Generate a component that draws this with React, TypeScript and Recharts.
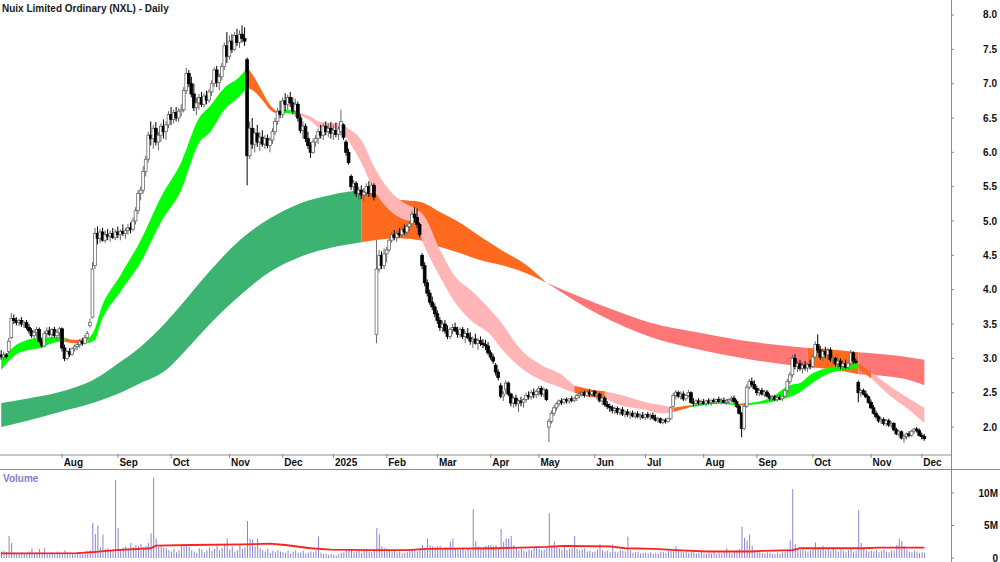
import { ComposedChart, Bar, Area, Line, XAxis, YAxis } from 'recharts';

// [open, high, low, close, volume (millions)] per trading day
type Candle = [number, number, number, number, number];
type Tone = 'up' | 'turn' | 'down';
type Seg = [Tone, [number, number, number][]];

const jul24: Candle[] = [
  [3.05,3.12,2.98,3.02,1.0],[3.02,3.10,2.97,3.05,1.1],[3.05,3.08,3.00,3.03,0.9],[3.10,3.30,3.08,3.25,3.4],
  [3.30,3.66,3.28,3.58,2.3],[3.58,3.64,3.50,3.55,0.8],[3.55,3.60,3.48,3.52,0.7],[3.52,3.58,3.47,3.55,0.6],
  [3.55,3.60,3.46,3.50,0.9],[3.50,3.55,3.44,3.52,0.7],[3.52,3.56,3.42,3.45,0.8],[3.45,3.50,3.36,3.40,1.0],
  [3.40,3.44,3.30,3.33,1.5],[3.33,3.42,3.28,3.38,0.7],[3.38,3.46,3.30,3.42,0.9],[3.42,3.45,3.22,3.25,1.4],
  [3.25,3.30,3.15,3.18,0.8],[3.18,3.40,3.16,3.36,1.5],[3.36,3.45,3.30,3.40,0.6],[3.40,3.46,3.32,3.35,0.8],
  [3.35,3.44,3.28,3.42,0.9],[3.42,3.46,3.30,3.33,0.7],[3.33,3.42,3.27,3.38,1.0],[3.38,3.46,3.30,3.43,0.8],
];
const aug24: Candle[] = [
  [3.43,3.45,3.10,3.15,0.7],[3.15,3.20,2.96,3.00,1.2],[3.00,3.12,2.97,3.10,0.9],[3.10,3.15,3.02,3.06,0.8],
  [3.06,3.16,3.04,3.14,0.6],[3.14,3.20,3.10,3.17,0.7],[3.17,3.24,3.12,3.20,0.9],[3.20,3.28,3.15,3.25,0.8],
  [3.25,3.30,3.18,3.22,0.7],[3.22,3.34,3.20,3.30,1.0],[3.30,3.40,3.27,3.36,1.1],[3.48,3.58,3.45,3.52,1.2],
  [3.60,4.40,3.58,4.30,5.4],[4.35,4.90,4.30,4.82,3.7],[4.82,4.92,4.66,4.75,5.0],[4.75,4.88,4.68,4.84,1.6],
  [4.84,4.90,4.70,4.72,3.6],[4.72,4.86,4.68,4.80,1.4],[4.80,4.88,4.72,4.78,1.5],[4.78,4.86,4.70,4.82,1.2],
  [4.82,4.90,4.74,4.76,1.3],[4.76,4.88,4.72,4.84,12.0],
];
const sep24: Candle[] = [
  [4.84,4.92,4.75,4.80,4.6],[4.80,4.88,4.72,4.85,1.4],[4.85,4.95,4.78,4.82,1.6],[4.82,4.90,4.74,4.86,1.8],
  [4.86,4.96,4.80,4.90,1.5],[4.90,4.98,4.82,4.88,2.3],[4.88,5.05,4.85,5.00,1.7],[5.00,5.20,4.95,5.15,2.0],
  [5.15,5.45,5.10,5.40,1.8],[5.40,5.50,5.30,5.45,2.2],[5.45,5.80,5.40,5.72,1.6],[5.72,5.95,5.65,5.90,1.9],
  [5.90,6.30,5.85,6.25,2.3],[6.25,6.45,6.10,6.20,3.8],[6.20,6.40,6.05,6.35,12.4],[6.35,6.44,6.10,6.15,3.0],
  [6.15,6.30,6.03,6.25,1.7],[6.25,6.42,6.15,6.38,1.9],[6.38,6.48,6.20,6.30,1.6],[6.30,6.45,6.18,6.40,1.5],
  [6.40,6.60,6.35,6.55,1.2],
];
const oct24: Candle[] = [
  [6.55,6.66,6.40,6.48,1.0],[6.48,6.62,6.42,6.58,1.4],[6.58,6.66,6.45,6.50,0.9],[6.50,6.64,6.44,6.60,1.2],
  [6.60,6.70,6.52,6.62,1.9],[6.62,6.95,6.58,6.90,1.8],[6.90,7.23,6.85,7.15,2.0],[7.15,7.20,6.95,7.00,1.7],
  [7.00,7.10,6.80,6.85,1.2],[6.85,7.00,6.60,6.65,1.0],[6.65,6.80,6.54,6.72,0.8],[6.72,6.85,6.62,6.80,1.5],
  [6.80,6.88,6.66,6.70,1.3],[6.70,6.86,6.65,6.82,0.9],[6.82,6.90,6.70,6.76,1.2],[6.76,6.92,6.72,6.88,1.6],
  [6.88,7.05,6.82,7.00,1.1],[7.00,7.24,6.95,7.20,1.4],[7.20,7.26,6.95,7.02,1.9],[7.02,7.15,6.90,7.10,1.2],
  [7.10,7.30,7.05,7.25,1.5],[7.25,7.60,7.20,7.55,2.0],[7.55,7.75,7.30,7.40,3.0],
];
const nov24: Candle[] = [
  [7.40,7.70,7.35,7.62,1.3],[7.62,7.72,7.45,7.50,1.8],[7.50,7.75,7.48,7.70,1.0],[7.70,7.80,7.55,7.60,1.2],
  [7.60,7.78,7.52,7.72,2.0],[7.72,7.85,7.60,7.66,1.4],[7.66,7.82,7.55,7.62,1.6],[7.35,7.38,5.52,5.95,5.7],
  [5.95,6.45,5.90,6.35,3.0],[6.35,6.50,6.05,6.12,2.9],[6.12,6.35,6.00,6.28,1.8],[6.28,6.40,6.08,6.15,3.0],
  [6.15,6.30,6.02,6.22,1.5],[6.22,6.32,6.08,6.12,1.2],[6.12,6.25,6.05,6.20,1.0],[6.20,6.26,6.06,6.10,1.4],
  [6.10,6.22,6.00,6.18,0.8],[6.18,6.35,6.12,6.30,1.1],[6.30,6.50,6.25,6.45,0.9],[6.45,6.65,6.40,6.60,1.2],
  [6.60,6.75,6.50,6.55,1.0],
];
const dec24: Candle[] = [
  [6.55,6.80,6.50,6.75,0.9],[6.75,6.86,6.60,6.70,0.8],[6.70,6.84,6.62,6.80,1.1],[6.80,6.88,6.66,6.72,0.7],
  [6.72,6.80,6.55,6.60,1.0],[6.60,6.78,6.52,6.70,1.2],[6.70,6.74,6.45,6.50,0.8],[6.50,6.55,6.28,6.32,0.9],
  [6.32,6.45,6.20,6.38,1.1],[6.38,6.42,6.15,6.20,0.7],[6.20,6.30,6.05,6.10,0.8],[6.10,6.15,5.92,6.00,1.0],
  [6.00,6.20,5.98,6.15,0.9],[6.15,6.25,6.08,6.20,1.2],[6.20,6.35,6.12,6.30,3.3],[6.30,6.40,6.20,6.25,0.8],
  [6.25,6.42,6.18,6.38,0.6],[6.38,6.45,6.25,6.30,0.7],[6.30,6.42,6.22,6.35,0.5],[6.35,6.44,6.20,6.28,0.6],
];
const jan25: Candle[] = [
  [6.28,6.40,6.18,6.32,0.5],[6.32,6.43,6.22,6.26,0.4],[6.26,6.38,6.18,6.34,0.6],[6.30,6.62,6.25,6.45,0.8],
  [6.40,6.42,6.18,6.22,0.9],[6.15,6.18,5.95,6.00,1.1],[6.00,6.05,5.82,5.85,1.2],[5.65,5.68,5.45,5.50,1.3],
  [5.50,5.60,5.38,5.55,0.9],[5.55,5.58,5.35,5.40,1.0],[5.40,5.50,5.30,5.45,1.2],[5.45,5.52,5.32,5.38,0.8],
  [5.38,5.48,5.28,5.42,1.1],[5.42,5.55,5.36,5.50,1.4],[5.50,5.58,5.35,5.40,1.0],[5.40,5.56,5.36,5.52,0.9],
  [5.52,5.55,5.30,5.35,1.2],[3.35,4.72,3.22,4.30,4.6],[4.30,4.58,4.25,4.50,3.6],[4.50,4.56,4.30,4.35,1.8],
  [4.35,4.60,4.30,4.52,1.5],
];
const feb25: Candle[] = [
  [4.52,4.62,4.40,4.58,1.4],[4.58,4.75,4.55,4.72,1.2],[4.72,4.85,4.68,4.80,1.0],[4.80,4.87,4.72,4.76,1.1],
  [4.76,4.86,4.70,4.82,0.9],[4.82,4.90,4.76,4.80,1.0],[4.80,4.92,4.77,4.88,0.7],[4.88,4.95,4.80,4.84,0.8],
  [4.84,4.95,4.80,4.92,0.9],[4.92,5.00,4.85,4.96,1.1],[4.96,5.15,4.92,5.10,1.3],[5.10,5.20,4.98,5.05,1.2],
  [5.05,5.18,4.90,4.95,1.0],[4.95,4.98,4.76,4.80,1.5],[4.50,4.53,4.30,4.35,2.0],[4.35,4.40,4.05,4.10,1.6],
  [4.10,4.15,3.90,3.95,3.0],[3.95,4.00,3.78,3.82,2.0],[3.82,3.90,3.70,3.75,1.8],[3.75,3.80,3.60,3.65,1.7],
];
const mar25: Candle[] = [
  [3.65,3.70,3.50,3.55,1.8],[3.55,3.60,3.40,3.45,1.9],[3.45,3.55,3.38,3.50,1.4],[3.50,3.56,3.36,3.40,1.7],
  [3.40,3.48,3.28,3.32,1.6],[3.32,3.45,3.28,3.42,2.5],[3.42,3.50,3.35,3.45,3.0],[3.45,3.52,3.38,3.40,1.5],
  [3.40,3.46,3.30,3.35,1.3],[3.35,3.45,3.30,3.42,1.2],[3.42,3.46,3.28,3.32,1.6],[3.32,3.40,3.22,3.36,1.1],
  [3.36,3.44,3.28,3.30,1.4],[3.30,3.38,3.20,3.25,1.2],[3.25,3.32,3.15,3.28,7.5],[3.28,3.36,3.20,3.22,2.6],
  [3.22,3.30,3.12,3.26,1.8],[3.26,3.32,3.18,3.22,1.5],[3.22,3.28,3.15,3.20,1.6],[3.20,3.27,3.12,3.18,1.9],
  [3.18,3.24,3.05,3.08,2.0],
];
const apr25: Candle[] = [
  [3.08,3.12,2.98,3.02,2.0],[3.02,3.06,2.92,2.96,1.8],[2.90,2.93,2.75,2.80,2.0],[2.80,2.84,2.68,2.72,1.6],
  [2.60,2.64,2.42,2.45,4.5],[2.45,2.52,2.38,2.48,2.5],[2.55,2.68,2.48,2.64,3.0],[2.64,2.66,2.45,2.48,3.0],
  [2.48,2.50,2.30,2.35,3.4],[2.35,2.45,2.28,2.42,2.0],[2.42,2.47,2.30,2.34,1.5],[2.34,2.40,2.22,2.38,1.2],
  [2.38,2.44,2.30,2.36,1.4],[2.36,2.42,2.28,2.40,1.1],[2.40,2.50,2.36,2.46,1.0],[2.46,2.52,2.40,2.44,1.3],
  [2.44,2.54,2.40,2.50,1.2],[2.50,2.56,2.42,2.47,1.5],[2.47,2.55,2.42,2.52,1.6],
];
const may25: Candle[] = [
  [2.52,2.60,2.45,2.56,1.4],[2.56,2.60,2.44,2.48,1.2],[2.48,2.58,2.44,2.54,1.3],[2.54,2.56,2.38,2.40,1.6],
  [2.00,2.12,1.78,2.08,6.9],[2.08,2.24,2.05,2.20,2.0],[2.20,2.32,2.16,2.28,2.5],[2.28,2.36,2.24,2.34,1.7],
  [2.34,2.40,2.30,2.38,1.5],[2.38,2.42,2.32,2.36,1.3],[2.36,2.42,2.33,2.40,1.6],[2.40,2.43,2.34,2.38,1.2],
  [2.38,2.42,2.34,2.41,1.4],[2.41,2.45,2.36,2.39,1.5],[2.39,2.44,2.36,2.42,3.4],[2.42,2.48,2.38,2.46,1.4],
  [2.46,2.52,2.42,2.48,1.2],[2.48,2.54,2.44,2.50,1.3],[2.50,2.53,2.43,2.46,1.5],[2.46,2.54,2.44,2.51,1.0],
  [2.51,2.55,2.44,2.48,1.1],[2.48,2.54,2.45,2.52,0.9],
];
const jun25: Candle[] = [
  [2.52,2.54,2.44,2.46,1.0],[2.46,2.50,2.40,2.48,1.3],[2.48,2.50,2.36,2.38,2.1],[2.38,2.44,2.32,2.42,1.2],
  [2.42,2.45,2.30,2.33,1.0],[2.33,2.38,2.26,2.30,1.1],[2.30,2.34,2.22,2.28,0.9],[2.28,2.32,2.20,2.24,2.1],
  [2.24,2.30,2.19,2.27,1.0],[2.27,2.30,2.18,2.21,0.9],[2.21,2.28,2.17,2.25,1.2],[2.25,2.29,2.16,2.19,1.1],
  [2.19,2.24,2.14,2.22,1.0],[2.22,2.26,2.15,2.18,3.3],[2.18,2.23,2.12,2.20,1.2],[2.20,2.24,2.14,2.16,0.8],
  [2.16,2.22,2.12,2.19,0.9],[2.19,2.23,2.13,2.15,1.0],[2.15,2.20,2.10,2.17,0.7],[2.17,2.22,2.12,2.14,0.8],
];
const jul25: Candle[] = [
  [2.14,2.20,2.10,2.18,0.8],[2.18,2.22,2.12,2.15,0.7],[2.15,2.20,2.10,2.17,0.9],[2.17,2.21,2.11,2.13,0.6],
  [2.13,2.18,2.08,2.10,0.8],[2.10,2.15,2.06,2.12,0.7],[2.12,2.14,2.05,2.07,1.0],[2.07,2.12,2.04,2.10,0.9],
  [2.10,2.13,2.05,2.08,0.8],[2.08,2.14,2.06,2.12,1.1],[2.12,2.30,2.10,2.28,1.2],[2.30,2.50,2.28,2.46,1.0],
  [2.46,2.54,2.40,2.50,1.8],[2.50,2.53,2.42,2.45,1.3],[2.45,2.52,2.40,2.48,1.0],[2.48,2.52,2.38,2.41,0.9],
  [2.41,2.48,2.38,2.46,1.1],[2.46,2.54,2.43,2.50,0.8],[2.50,2.52,2.34,2.36,1.0],[2.36,2.42,2.30,2.34,0.9],
  [2.34,2.40,2.30,2.38,0.7],[2.38,2.42,2.32,2.35,0.8],[2.35,2.40,2.31,2.37,0.9],
];
const aug25: Candle[] = [
  [2.37,2.41,2.32,2.34,0.7],[2.34,2.40,2.30,2.38,0.6],[2.38,2.42,2.33,2.36,0.8],[2.36,2.40,2.31,2.39,0.7],
  [2.39,2.42,2.34,2.37,0.9],[2.37,2.41,2.33,2.40,0.6],[2.40,2.44,2.35,2.37,0.8],[2.37,2.42,2.33,2.39,0.7],
  [2.39,2.43,2.34,2.36,0.9],[2.36,2.41,2.32,2.38,1.5],[2.38,2.42,2.33,2.40,0.8],[2.40,2.45,2.36,2.42,0.7],
  [2.42,2.46,2.35,2.37,1.0],[2.37,2.40,2.28,2.30,1.2],[2.30,2.33,2.18,2.20,1.4],[2.20,2.22,1.85,1.98,4.8],
  [1.98,2.35,1.95,2.30,3.1],[2.30,2.62,2.28,2.58,2.7],[2.58,2.70,2.55,2.66,3.6],[2.66,2.72,2.58,2.62,1.9],
  [2.62,2.68,2.54,2.56,1.2],
];
const sep25: Candle[] = [
  [2.56,2.60,2.46,2.50,1.0],[2.50,2.56,2.45,2.53,0.9],[2.53,2.57,2.46,2.48,0.8],[2.48,2.54,2.44,2.51,0.7],
  [2.51,2.54,2.43,2.45,0.9],[2.45,2.49,2.38,2.42,0.8],[2.42,2.47,2.37,2.44,0.7],[2.44,2.47,2.38,2.40,0.6],
  [2.40,2.46,2.37,2.43,0.8],[2.43,2.47,2.39,2.41,0.7],[2.41,2.46,2.38,2.45,0.9],[2.45,2.55,2.43,2.53,1.0],
  [2.53,2.70,2.50,2.66,1.3],[2.66,2.80,2.62,2.76,2.7],[2.76,3.05,2.72,3.00,10.6],[3.00,3.06,2.84,2.88,2.2],
  [2.88,2.96,2.80,2.92,1.5],[2.92,2.98,2.82,2.85,1.2],[2.85,2.94,2.78,2.90,1.3],[2.90,2.96,2.82,2.86,1.1],
  [2.86,2.94,2.80,2.91,1.0],[2.91,2.98,2.84,2.88,1.2],
];
const oct25: Candle[] = [
  [2.88,3.05,2.86,3.02,1.4],[3.02,3.25,3.00,3.20,2.4],[3.20,3.35,3.08,3.12,1.6],[3.12,3.18,2.98,3.02,1.3],
  [3.02,3.14,2.96,3.10,1.9],[3.10,3.17,3.00,3.05,1.2],[3.05,3.15,2.98,3.12,1.4],[3.12,3.16,2.95,2.98,1.1],
  [2.98,3.05,2.92,3.00,1.6],[3.00,3.02,2.88,2.92,1.2],[2.92,3.00,2.85,2.96,1.0],[2.96,3.00,2.84,2.88,1.3],
  [2.88,2.96,2.83,2.92,1.1],[2.92,2.98,2.84,2.87,0.9],[2.87,2.95,2.84,2.93,1.2],[2.93,3.12,2.90,3.08,1.5],
  [3.08,3.10,2.92,2.96,1.0],[2.96,3.00,2.92,2.94,1.1],[2.65,2.68,2.36,2.50,7.4],[2.50,2.56,2.44,2.53,2.3],
  [2.53,2.56,2.46,2.48,1.5],[2.48,2.53,2.42,2.44,1.2],[2.44,2.46,2.34,2.36,1.0],
];
const nov25: Candle[] = [
  [2.36,2.40,2.26,2.28,1.1],[2.28,2.32,2.18,2.20,1.0],[2.20,2.24,2.12,2.15,1.2],[2.15,2.18,2.06,2.09,0.9],
  [2.09,2.14,2.04,2.11,1.1],[2.11,2.14,2.02,2.05,1.3],[2.05,2.12,2.01,2.09,1.0],[2.09,2.12,2.00,2.03,0.9],
  [2.03,2.08,1.98,2.05,1.2],[2.05,2.07,1.94,1.96,1.1],[1.96,1.99,1.88,1.90,2.0],[1.90,1.96,1.86,1.93,3.0],
  [1.93,1.95,1.82,1.84,2.6],[1.84,1.90,1.77,1.86,1.8],[1.86,1.92,1.82,1.90,1.3],[1.90,1.94,1.85,1.88,1.0],
  [1.88,1.96,1.86,1.94,0.9],[1.94,1.99,1.90,1.97,1.1],[1.97,2.00,1.92,1.95,1.0],[1.95,1.98,1.86,1.88,0.8],
];
const dec25: Candle[] = [[1.88,1.92,1.82,1.86,0.9],[1.86,1.90,1.80,1.83,0.8]];

const months: [string, Candle[]][] = [
  ['', jul24], ['Aug', aug24], ['Sep', sep24], ['Oct', oct24], ['Nov', nov24], ['Dec', dec24],
  ['2025', jan25], ['Feb', feb25], ['Mar', mar25], ['Apr', apr25], ['May', may25], ['Jun', jun25],
  ['Jul', jul25], ['Aug', aug25], ['Sep', sep25], ['Oct', oct25], ['Nov', nov25], ['Dec', dec25],
];

// ribbons: [day index, lower edge, upper edge]
const shortRibbon: Seg[] = [
  ['up', [[0,2.83,2.98],[7,3.08,3.22],[15,3.15,3.30],[23,3.24,3.31],[25,3.24,3.30]]],
  ['turn', [[25,3.24,3.30],[29,3.22,3.27],[34,3.22,3.27]]],
  ['up', [[34,3.22,3.28],[37,3.27,3.44],[39,3.49,3.68],[47,3.97,4.21],[55,4.40,4.72],[63,4.99,5.35],[71,5.45,5.86],[78,6.14,6.50],[82,6.28,6.66],[88,6.62,6.94],[94,6.82,7.10],[97,6.94,7.23]]],
  ['turn', [[97,6.94,7.23],[100,6.88,7.08],[103,6.76,6.88],[106,6.62,6.69],[109,6.56,6.59]]],
  ['up', [[109,6.56,6.59],[112,6.57,6.62],[116,6.56,6.60]]],
  ['down', [[116,6.56,6.60],[122,6.46,6.52],[126,6.35,6.44],[130,6.35,6.43],[134,6.33,6.43],[136,6.22,6.37],[142,5.85,6.18],[147,5.45,5.79],[153,5.16,5.45],[159,5.02,5.26],[163,4.99,5.19],[167,4.62,5.06],[173,4.19,4.58],[179,3.81,4.19],[185,3.56,4.00],[193,3.34,3.70],[197,3.15,3.53],[205,2.86,3.12],[213,2.68,2.90],[221,2.57,2.76],[226,2.50,2.60]]],
  ['turn', [[226,2.50,2.60],[232,2.44,2.55],[238,2.42,2.52]]],
  ['down', [[238,2.42,2.52],[244,2.32,2.47],[254,2.25,2.36],[260,2.20,2.32],[265,2.22,2.28]]],
  ['turn', [[265,2.22,2.28],[272,2.29,2.32]]],
  ['up', [[272,2.29,2.32],[284,2.34,2.36],[291,2.31,2.34]]],
  ['turn', [[291,2.31,2.34],[295,2.32,2.35]]],
  ['up', [[295,2.32,2.35],[303,2.36,2.42],[311,2.44,2.61],[315,2.51,2.64],[319,2.62,2.76],[327,2.79,2.87],[333,2.83,2.90],[338,2.86,2.92]]],
  ['turn', [[338,2.86,2.92],[341,2.76,2.85],[343,2.71,2.80]]],
  ['down', [[343,2.71,2.80],[351,2.44,2.58],[359,2.22,2.39],[364,2.06,2.28]]],
];

const longRibbon: Seg[] = [
  ['up', [[0,2.00,2.35],[11,2.10,2.42],[23,2.22,2.51],[36,2.35,2.68],[47,2.50,2.95],[55,2.64,3.17],[65,2.83,3.53],[71,3.05,3.78],[82,3.49,4.26],[94,3.91,4.72],[106,4.26,5.04],[118,4.48,5.26],[130,4.61,5.38],[142,4.69,5.45]]],
  ['turn', [[142,4.69,5.45],[157,4.75,5.31],[165,4.72,5.28],[173,4.62,5.13],[181,4.53,4.97],[189,4.43,4.77],[197,4.36,4.58],[207,4.24,4.36],[215,4.10,4.10]]],
  ['down', [[215,4.10,4.10],[236,3.63,3.78],[256,3.31,3.52],[276,3.12,3.37],[296,2.98,3.24],[318,2.87,3.15]]],
  ['turn', [[318,2.87,3.15],[327,2.84,3.13],[338,2.77,3.09]]],
  ['down', [[338,2.77,3.09],[355,2.71,3.03],[364,2.61,2.98]]],
];

// volume moving average: [day index, millions]
const volAvg: [number, number][] = [
  [0,0.7],[30,0.75],[36,0.9],[45,1.2],[59,1.5],[61,1.9],[75,2.0],[95,2.1],[106,2.2],[112,2.0],
  [122,1.5],[130,1.3],[145,1.2],[160,1.2],[168,1.4],[195,1.5],[205,1.6],[215,1.7],[222,1.85],[240,1.8],
  [246,1.5],[258,1.4],[266,1.2],[278,1.0],[296,1.0],[300,1.1],[312,1.2],[315,1.5],[340,1.5],[346,1.6],[364,1.6],
];

const priceTicks = [2, 2.5, 3, 3.5, 4, 4.5, 5, 5.5, 6, 6.5, 7, 7.5, 8];
const volTicks = [0, 5, 10];
const volLabels: Record<number, string> = { 0: '0', 5: '5M', 10: '10M' };

const shortColors: Record<Tone, string> = { up: '#00ff00', turn: '#ff6a1f', down: '#ffb5b5' };
const longColors: Record<Tone, string> = { up: '#3cb371', turn: '#ff6a1f', down: '#ff7676' };

const FONT = 'Arial, "Liberation Sans", sans-serif';
const PAD = 10;
const PRICE_MIN = 1.5926;
const PRICE_MAX = 8.2184;
const VOL_MAX = 13.54;

const candles = months.flatMap((m) => m[1]);
const rows: any[] = Array.from({ length: candles.length + PAD }, (_, i) => {
  const c = candles[i];
  return c ? { i, open: c[0], high: c[1], low: c[2], close: c[3], vol: c[4] } : { i };
});

const monthTicks: number[] = [];
const monthName: Record<number, string> = {};
let start = 0;
months.forEach(([label, bars]) => {
  if (label) {
    monthTicks.push(start);
    monthName[start] = label;
  }
  start += bars.length;
});

function addRibbon(name: string, segs: Seg[], colors: Record<Tone, string>) {
  return segs.map(([tone, pts], k) => {
    const key = `${name}${k}`;
    pts.forEach(([d, lo, hi]) => {
      rows[d][key] = [lo, hi];
    });
    return { key, color: colors[tone] };
  });
}
const longSeries = addRibbon('long', longRibbon, longColors);
const shortSeries = addRibbon('short', shortRibbon, shortColors);
volAvg.forEach(([d, v]) => {
  rows[d].volAvg = v;
});

function CandleShape(props: any) {
  const { x, y, width, height, payload } = props;
  if (!payload || payload.high == null) return <g />;
  const top = Math.min(y, y + height);
  const h = Math.abs(height);
  const range = payload.high - payload.low;
  const k = range > 0 ? h / range : 0;
  const cx = x + width / 2;
  const yO = top + (payload.high - payload.open) * k;
  const yC = top + (payload.high - payload.close) * k;
  const up = payload.close >= payload.open;
  const color = up ? '#686868' : '#000000';
  return (
    <g>
      <line x1={cx} x2={cx} y1={top} y2={top + h} stroke={color} strokeWidth={1} />
      <rect
        x={cx - 1.4}
        y={Math.min(yO, yC)}
        width={2.8}
        height={Math.max(Math.abs(yC - yO), 1)}
        fill={up ? '#ffffff' : '#000000'}
        stroke={color}
        strokeWidth={0.8}
      />
    </g>
  );
}

function MonthTick(props: any) {
  const { x, payload } = props;
  return (
    <g>
      <line x1={x} x2={x} y1={454} y2={458} stroke="#8c8c8c" />
      <text x={x + 1.5} y={466} fontSize={10} fontWeight="bold" fontFamily={FONT} fill="#111">
        {monthName[payload.value]}
      </text>
    </g>
  );
}

function PriceTick(props: any) {
  const { y, payload } = props;
  return (
    <text x={997} y={y + 3.5} textAnchor="end" fontSize={10} fontWeight="bold" fontFamily={FONT} fill="#111">
      {Number(payload.value).toFixed(1)}
    </text>
  );
}

function VolTick(props: any) {
  const { y, payload } = props;
  return (
    <text x={998} y={y + 3.5} textAnchor="end" fontSize={10} fontWeight="bold" fontFamily={FONT} fill="#111">
      {volLabels[payload.value]}
    </text>
  );
}

export default function App() {
  return (
    <div style={{ position: 'absolute', left: 0, top: 0, width: 1000, height: 562, background: '#fff', overflow: 'hidden' }}>
      <div style={{ position: 'absolute', left: 0, top: 0 }}>
        <ComposedChart width={1000} height={470} data={rows} margin={{ top: 0, right: 0, bottom: 0, left: 0 }}>
          <XAxis
            dataKey="i"
            type="category"
            height={15}
            ticks={monthTicks}
            interval={0}
            tickLine={false}
            axisLine={{ stroke: '#8c8c8c' }}
            tick={(p: any) => <MonthTick {...p} />}
          />
          <YAxis
            orientation="right"
            width={49}
            domain={[PRICE_MIN, PRICE_MAX]}
            allowDataOverflow
            ticks={priceTicks}
            interval={0}
            tickSize={3}
            tickLine={{ stroke: '#8c8c8c' }}
            axisLine={false}
            tick={(p: any) => <PriceTick {...p} />}
          />
          {longSeries.map((s) => (
            <Area key={s.key} dataKey={s.key} type="monotone" stroke="none" fill={s.color} fillOpacity={1}
              connectNulls dot={false} activeDot={false} isAnimationActive={false} />
          ))}
          {shortSeries.map((s) => (
            <Area key={s.key} dataKey={s.key} type="monotone" stroke="none" fill={s.color} fillOpacity={1}
              connectNulls dot={false} activeDot={false} isAnimationActive={false} />
          ))}
          <Bar
            dataKey={(d: any) => (d.high == null ? null : [d.low, d.high])}
            shape={(p: any) => <CandleShape {...p} />}
            barSize={3}
            isAnimationActive={false}
          />
        </ComposedChart>
      </div>
      <div style={{ position: 'absolute', left: 0, top: 470 }}>
        <ComposedChart width={1000} height={92} data={rows} margin={{ top: 0, right: 0, bottom: 4, left: 0 }}>
          <XAxis dataKey="i" type="category" hide />
          <YAxis
            orientation="right"
            width={49}
            domain={[0, VOL_MAX]}
            allowDataOverflow
            ticks={volTicks}
            interval={0}
            tickSize={3}
            tickLine={{ stroke: '#8c8c8c' }}
            axisLine={false}
            tick={(p: any) => <VolTick {...p} />}
          />
          <Bar dataKey="vol" fill="#8686cf" barSize={1} isAnimationActive={false} />
          <Line dataKey="volAvg" type="linear" stroke="#ff2020" strokeWidth={1.8} dot={false} activeDot={false}
            connectNulls isAnimationActive={false} />
        </ComposedChart>
      </div>
      <svg width={1000} height={562} style={{ position: 'absolute', left: 0, top: 0, pointerEvents: 'none' }}>
        <line x1={951.5} x2={951.5} y1={0} y2={562} stroke="#8c8c8c" />
        <line x1={0} x2={1000} y1={469.5} y2={469.5} stroke="#8c8c8c" />
        <text x={2} y={12} fontSize={10} fontWeight="bold" fontFamily={FONT} fill="#1a1a1a">
          Nuix Limited Ordinary (NXL) - Daily
        </text>
        <text x={3} y={482} fontSize={10} fontWeight="bold" fontFamily={FONT} fill="#8080c4">
          Volume
        </text>
      </svg>
    </div>
  );
}
